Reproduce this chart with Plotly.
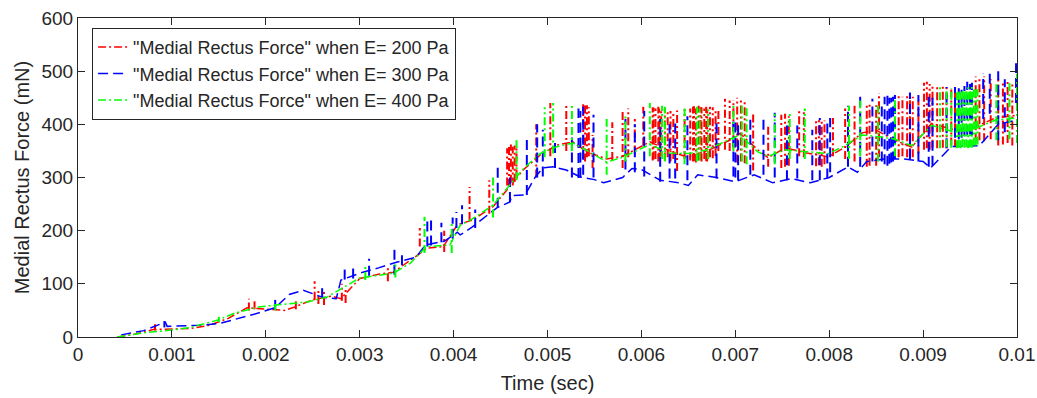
import plotly.graph_objects as go

# ---------------- data ----------------
x_tick_vals = [0, 0.001, 0.002, 0.003, 0.004, 0.005, 0.006, 0.007, 0.008, 0.009, 0.01]
x_tick_text = ["0", "0.001", "0.002", "0.003", "0.004", "0.005", "0.006", "0.007", "0.008", "0.009", "0.01"]
y_tick_vals = [0, 100, 200, 300, 400, 500, 600]

series_names = ['"Medial Rectus Force" when E= 200 Pa',
                '"Medial Rectus Force" when E= 300 Pa',
                '"Medial Rectus Force" when E= 400 Pa']

# E = 200 Pa (red) : underlying trend
red_t = [0.00042, 0.0006, 0.0008, 0.001, 0.0012, 0.0014, 0.0016, 0.0018, 0.0020, 0.0022, 0.0023,
         0.0025, 0.0027, 0.0028, 0.0030, 0.0032, 0.00336, 0.0035, 0.00372, 0.00389, 0.00404, 0.0042,
         0.00442, 0.00457, 0.00474, 0.00492, 0.0051, 0.00527, 0.00542, 0.00563, 0.0058, 0.00609,
         0.0063, 0.00649, 0.0067, 0.00694, 0.00705, 0.00724, 0.00735, 0.00753, 0.00776, 0.00799,
         0.00817, 0.00835, 0.0085, 0.0087, 0.00888, 0.00909, 0.00934, 0.00955, 0.00977, 0.01]
red_f = [0, 5, 14, 15, 16, 22, 35, 55, 52, 50, 56,
         70, 77, 72, 110, 118, 122, 140, 167, 170, 211, 220,
         245, 277, 314, 342, 361, 367, 348, 335, 340, 367,
         350, 338, 350, 370, 383, 352, 337, 356, 346, 339,
         357, 384, 389, 370, 357, 402, 389, 395, 412, 417]
# red spikes: time, low, high
red_spk_t = [0.00082, 0.00182, 0.00188, 0.00232, 0.00252, 0.00256, 0.00262, 0.00281, 0.00285, 0.00330,
             0.00364, 0.00390, 0.00417, 0.00438, 0.00457, 0.00459, 0.00461, 0.00463, 0.00465, 0.00467,
             0.00488, 0.00503, 0.00520, 0.00538, 0.00540, 0.00542, 0.00544, 0.00548, 0.00569, 0.00580,
             0.00586, 0.00593, 0.00602, 0.00612, 0.00615, 0.00618, 0.00621, 0.00625, 0.00628, 0.00638,
             0.00646, 0.00655, 0.00658, 0.00661, 0.00664, 0.00667, 0.00670, 0.00673, 0.00682, 0.00689,
             0.00694, 0.00698, 0.00702, 0.00706, 0.00710, 0.00719, 0.00735, 0.00749, 0.00753, 0.00757,
             0.00768, 0.00773, 0.00786, 0.00789, 0.00792, 0.00795, 0.00804, 0.00817, 0.00827, 0.00840,
             0.00843, 0.00850, 0.00853, 0.00874, 0.00878, 0.00883, 0.00901, 0.00904, 0.00907, 0.00910,
             0.00915, 0.00921, 0.00925, 0.00930, 0.00934, 0.00956, 0.00960, 0.00965, 0.00972, 0.00980,
             0.00985, 0.00990, 0.00995, 0.00631, 0.00634, 0.00652, 0.00676, 0.00679, 0.00886, 0.00889,
             0.00895, 0.00656, 0.00663, 0.00669, 0.00613, 0.00619]
red_spk_lo = [12, 50, 52, 52, 70, 62, 60, 68, 64, 105,
              170, 160, 220, 232, 285, 282, 290, 285, 292, 300,
              300, 340, 350, 335, 330, 338, 340, 318, 333, 318,
              338, 345, 360, 332, 335, 330, 340, 332, 338, 312,
              335, 330, 328, 332, 330, 335, 330, 338, 350, 352,
              350, 355, 328, 330, 327, 313, 320, 318, 320, 322,
              340, 338, 321, 323, 320, 325, 340, 335, 330, 320,
              322, 322, 338, 338, 340, 338, 352, 355, 352, 356,
              355, 356, 355, 360, 357, 368, 370, 368, 372, 360,
              362, 365, 360, 330, 335, 332, 336, 340, 340, 338,
              345, 331, 333, 331, 334, 332]
red_spk_hi = [24, 72, 68, 70, 105, 92, 85, 100, 92, 135,
              205, 200, 282, 295, 355, 360, 362, 358, 360, 356,
              400, 440, 440, 438, 440, 436, 432, 380, 404, 423,
              430, 410, 433, 432, 430, 433, 428, 430, 425, 426,
              428, 433, 430, 435, 432, 430, 428, 433, 428, 448,
              445, 446, 450, 448, 445, 420, 400, 418, 420, 415,
              425, 424, 410, 408, 410, 407, 412, 430, 435, 440,
              438, 436, 459, 455, 452, 455, 478, 480, 476, 475,
              470, 475, 472, 470, 468, 490, 486, 490, 485, 485,
              480, 484, 478, 425, 420, 430, 432, 428, 450, 452,
              445, 434, 432, 433, 431, 430]

# E = 300 Pa (blue) : underlying trend
blue_t = [0.00046, 0.0007, 0.00093, 0.00095, 0.0013, 0.00152, 0.00192, 0.0021, 0.00225, 0.0024,
          0.0026, 0.00275, 0.0028, 0.0030, 0.0032, 0.0034, 0.0036, 0.0037, 0.0039, 0.00404,
          0.00407, 0.0042, 0.00446, 0.0046, 0.00462, 0.00476, 0.00487, 0.00495, 0.00506, 0.0052,
          0.00535, 0.0055, 0.0056, 0.0058, 0.0059, 0.0060, 0.0062, 0.0064, 0.0065, 0.0066,
          0.0068, 0.0070, 0.0072, 0.0074, 0.0076, 0.0078, 0.0080, 0.0082, 0.0083, 0.0084,
          0.0086, 0.0088, 0.0090, 0.00908, 0.0093, 0.0096, 0.0098, 0.01]
blue_f = [4, 12, 28, 20, 22, 26, 45, 55, 80, 88,
          75, 72, 107, 120, 130, 141, 150, 173, 180, 197,
          192, 207, 243, 254, 266, 267, 301, 318, 320, 314,
          301, 296, 290, 300, 317, 315, 295, 290, 285, 305,
          300, 292, 305, 290, 298, 290, 300, 320, 310, 330,
          335, 335, 330, 318, 358, 360, 400, 408]
blue_spk_t = [0.00092, 0.00210, 0.00260, 0.00284, 0.00293, 0.00310, 0.00337, 0.00345, 0.00372, 0.00376,
              0.00387, 0.00399, 0.00403, 0.00409, 0.00423, 0.00447, 0.00460, 0.00478, 0.00489, 0.00495,
              0.00508, 0.00526, 0.00533, 0.00535, 0.00538, 0.00549, 0.00583, 0.00593, 0.00603, 0.00620,
              0.00630, 0.00636, 0.00649, 0.00680, 0.00698, 0.00700, 0.00703, 0.00716, 0.00730, 0.00742,
              0.00755, 0.00766, 0.00782, 0.00790, 0.00798, 0.00801, 0.00820, 0.00833, 0.00846, 0.00856,
              0.00859, 0.00862, 0.00866, 0.00870, 0.00886, 0.00895, 0.00906, 0.00910, 0.00925, 0.00934,
              0.00938, 0.00941, 0.00947, 0.00952, 0.00964, 0.00971, 0.00980, 0.00987, 0.00999, 0.00868,
              0.00864, 0.00944, 0.00950]
blue_spk_lo = [18, 51, 73, 108, 110, 115, 117, 135, 170, 172,
               178, 185, 205, 212, 205, 243, 254, 267, 300, 302,
               318, 300, 299, 300, 305, 300, 315, 310, 302, 292,
               298, 298, 295, 298, 302, 300, 295, 305, 305, 300,
               295, 298, 295, 295, 298, 310, 320, 320, 330, 330,
               325, 322, 328, 335, 335, 330, 320, 322, 355, 375,
               372, 375, 380, 380, 410, 420, 370, 385, 440, 330,
               326, 378, 381]
blue_spk_hi = [30, 75, 92, 133, 130, 147, 165, 160, 226, 228,
               215, 225, 235, 248, 240, 323, 300, 376, 400, 390,
               370, 380, 430, 425, 433, 418, 410, 400, 425, 410,
               400, 410, 415, 410, 415, 412, 405, 415, 410, 422,
               398, 398, 390, 412, 405, 412, 435, 455, 448, 440,
               452, 455, 450, 455, 460, 455, 455, 450, 470, 470,
               468, 465, 480, 478, 495, 495, 500, 485, 515, 452,
               450, 472, 476]

# E = 400 Pa (green) : underlying trend
green_t = [0.00042, 0.0007, 0.00099, 0.0012, 0.00149, 0.00167, 0.00194, 0.00244, 0.00265, 0.003,
           0.00336, 0.00354, 0.00371, 0.00396, 0.00407, 0.0042, 0.00442, 0.00457, 0.00474, 0.00492,
           0.0051, 0.00527, 0.00545, 0.00563, 0.0058, 0.00609, 0.0063, 0.0065, 0.0067, 0.00694,
           0.00705, 0.00724, 0.00735, 0.00753, 0.00776, 0.00799, 0.00817, 0.00835, 0.00856, 0.0087,
           0.00888, 0.00909, 0.00934, 0.00955, 0.00977, 0.01]
green_f = [0, 8, 13, 18, 32, 45, 57, 66, 75, 111,
           120, 139, 170, 173, 210, 222, 248, 280, 316, 345,
           358, 365, 348, 329, 338, 362, 346, 345, 352, 372,
           380, 348, 340, 352, 348, 345, 360, 380, 376, 372,
           360, 398, 385, 392, 408, 412]
green_spk_t = [0.00150, 0.00210, 0.00306, 0.00338, 0.00369, 0.00398, 0.00442, 0.00467, 0.00497, 0.00506,
               0.00526, 0.00563, 0.00583, 0.00609, 0.00622, 0.00625, 0.00646, 0.00659, 0.00662, 0.00671,
               0.00698, 0.00707, 0.00712, 0.00742, 0.00758, 0.00774, 0.00821, 0.00833, 0.00852, 0.00870,
               0.00918, 0.00925, 0.00930, 0.00936, 0.00938, 0.00940, 0.00942, 0.00948, 0.00950, 0.00952,
               0.00954, 0.00978, 0.00992, 0.01000, 0.00944, 0.00946, 0.00956, 0.00958]
green_spk_lo = [28, 50, 107, 112, 158, 158, 225, 295, 338, 345,
                350, 305, 330, 340, 335, 330, 325, 330, 332, 335,
                350, 330, 325, 325, 335, 335, 335, 340, 330, 340,
                355, 357, 356, 355, 356, 355, 358, 355, 357, 356,
                360, 370, 372, 365, 356, 357, 360, 362]
green_spk_hi = [38, 62, 132, 137, 226, 214, 301, 374, 432, 440,
                438, 410, 420, 440, 435, 433, 430, 433, 430, 428,
                438, 435, 432, 420, 425, 430, 435, 445, 440, 450,
                470, 465, 468, 465, 466, 462, 464, 470, 468, 470,
                466, 478, 480, 495, 465, 467, 468, 466]

# ---------------- styling ----------------
RED, BLUE, GREEN = "#FF0000", "#0000FF", "#00FF00"
DASH_RED = "8px,3px,2px,3px"
DASH_BLUE = "10px,5px"
DASH_GREEN = "8px,3px,2px,3px"
LW = 1.5
LW_SPIKE = 2
AX = "#262626"
FONT = "Liberation Sans, Arial, Helvetica, sans-serif"


def spike_xy(ts, lo, hi):
    xs, ys = [], []
    for t, a, b in zip(ts, lo, hi):
        xs += [t, t, None]
        ys += [a, b, None]
    return xs, ys


fig = go.Figure()
specs = [
    (series_names[0], red_t, red_f, red_spk_t, red_spk_lo, red_spk_hi, RED, DASH_RED),
    (series_names[1], blue_t, blue_f, blue_spk_t, blue_spk_lo, blue_spk_hi, BLUE, DASH_BLUE),
    (series_names[2], green_t, green_f, green_spk_t, green_spk_lo, green_spk_hi, GREEN, DASH_GREEN),
]
for name, bt, bf, st, slo, shi, col, dash in specs:
    fig.add_trace(go.Scatter(x=bt, y=bf, mode="lines", name=name, legendgroup=name,
                             line=dict(color=col, width=LW, dash=dash)))
    sx, sy = spike_xy(st, slo, shi)
    fig.add_trace(go.Scatter(x=sx, y=sy, mode="lines", name=name, legendgroup=name,
                             showlegend=False, line=dict(color=col, width=LW_SPIKE, dash=dash)))

axis_common = dict(showline=True, linecolor=AX, linewidth=1, mirror="ticks",
                   ticks="inside", ticklen=7, tickcolor=AX, tickwidth=1,
                   showgrid=False, zeroline=False, automargin=False,
                   ticklabeloverflow="allow",
                   tickfont=dict(family=FONT, size=19, color=AX))

fig.update_layout(
    width=1037, height=398,
    margin=dict(l=78, r=20, t=18, b=61),
    paper_bgcolor="white", plot_bgcolor="white",
    font=dict(family=FONT, color=AX),
    xaxis=dict(range=[0, 0.01], tickvals=x_tick_vals, ticktext=x_tick_text,
               title=dict(text="Time (sec)", font=dict(family=FONT, size=20, color=AX), standoff=12),
               **axis_common),
    yaxis=dict(range=[0, 600], tickvals=y_tick_vals,
               title=dict(text="Medial Rectus Force (mN)", font=dict(family=FONT, size=20, color=AX), standoff=6),
               **axis_common),
    legend=dict(x=0.015, y=0.969, xanchor="left", yanchor="top",
                bgcolor="white", bordercolor=AX, borderwidth=1,
                font=dict(family=FONT, size=18, color=AX),
                tracegroupgap=0),
    showlegend=True,
)

# remove the default page margin so the figure fills the 1037x398 window exactly
fig.write_html("out.html", config={"displayModeBar": False},
               post_script="document.body.style.margin='0';document.body.style.overflow='hidden';")
